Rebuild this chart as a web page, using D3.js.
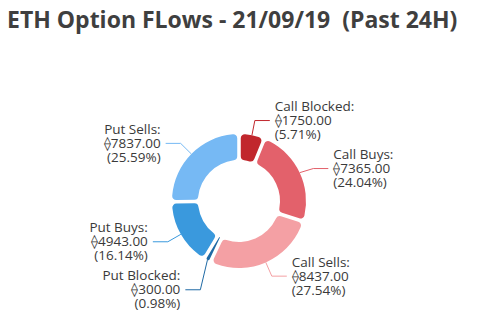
<!DOCTYPE html>
<html>
<head>
<meta charset="utf-8">
<script src="https://cdn.jsdelivr.net/npm/d3@7"></script>
<style>
  html, body { margin: 0; padding: 0; background: #fff; }
  svg { display: block; }
</style>
</head>
<body>
<svg id="chart" width="484" height="326"></svg>
<script>
const title = "ETH Option FLows - 21/09/19  (Past 24H)";
const categories = ["Call Blocked", "Call Buys", "Call Sells", "Put Blocked", "Put Buys", "Put Sells"];
const values = [1750.00, 7365.00, 8437.00, 300.00, 4943.00, 7837.00];
const percentLabels = ["5.71", "24.04", "27.54", "0.98", "16.14", "25.59"];
const colors = ["#c1272d", "#e3616b", "#f4a0a4", "#1f6aa5", "#3a99dd", "#76b9f4"];
const symbol = "\u27E0";

const svg = d3.select("#chart");
const cx = 239, cy = 201, R = 67, r = 41;

svg.append("text")
  .attr("x", 7).attr("y", 28)
  .attr("font-family", "'Open Sans', sans-serif")
  .attr("font-weight", "bold")
  .attr("font-size", 23)
  .attr("fill", "#3f3f3f")
  .style("white-space", "pre")
  .text(title);

const data = categories.map((c, i) => ({ name: c, value: values[i], pct: percentLabels[i], color: colors[i] }));

const pie = d3.pie().value(d => d.value).sort(null).padAngle(0.045);
const arcs = pie(data);
const arc = d3.arc().innerRadius(r).outerRadius(R).cornerRadius(4);

const g = svg.append("g").attr("transform", `translate(${cx},${cy})`);
g.selectAll("path.slice").data(arcs).join("path")
  .attr("class", "slice")
  .attr("d", arc)
  .attr("fill", d => d.data.color);

// label layout
const len1 = 15, len2 = 15, gap = 5, blockH = 48;
const items = arcs.map(a => {
  const mid = (a.startAngle + a.endAngle) / 2;
  const sx = Math.sin(mid), sy = -Math.cos(mid);
  return {
    a, mid,
    x0: R * sx, y0: R * sy,
    ex: (R + len1) * sx, ey: (R + len1) * sy,
    side: sx >= 0 ? 1 : -1
  };
});
[1, -1].forEach(side => {
  const list = items.filter(d => d.side === side).sort((p, q) => p.ey - q.ey);
  for (let i = 1; i < list.length; i++) {
    if (list[i].ey < list[i - 1].ey + blockH) list[i].ey = list[i - 1].ey + blockH;
  }
});

const lab = g.selectAll("g.lab").data(items).join("g").attr("class", "lab");
lab.append("polyline")
  .attr("points", d => [[d.x0, d.y0], [d.ex, d.ey], [d.ex + d.side * len2, d.ey]].map(p => p.join(",")).join(" "))
  .attr("fill", "none")
  .attr("stroke", d => d.a.data.color)
  .attr("stroke-width", 1);

const t = lab.append("text")
  .attr("font-family", "'Open Sans', sans-serif")
  .attr("font-size", 13.5)
  .attr("fill", "#3a3a3a")
  .attr("text-anchor", d => d.side > 0 ? "start" : "end")
  .attr("transform", d => `translate(${d.ex + d.side * (len2 + gap)},${d.ey})`);
t.append("tspan").attr("x", 0).attr("y", -9.5).text(d => d.a.data.name + ":");
t.append("tspan").attr("x", 0).attr("y", 4.5).text(d => symbol + d.a.data.value.toFixed(2));
t.append("tspan").attr("x", 0).attr("y", 18.5).text(d => "(" + d.a.data.pct + "%)");
</script>
</body>
</html>
